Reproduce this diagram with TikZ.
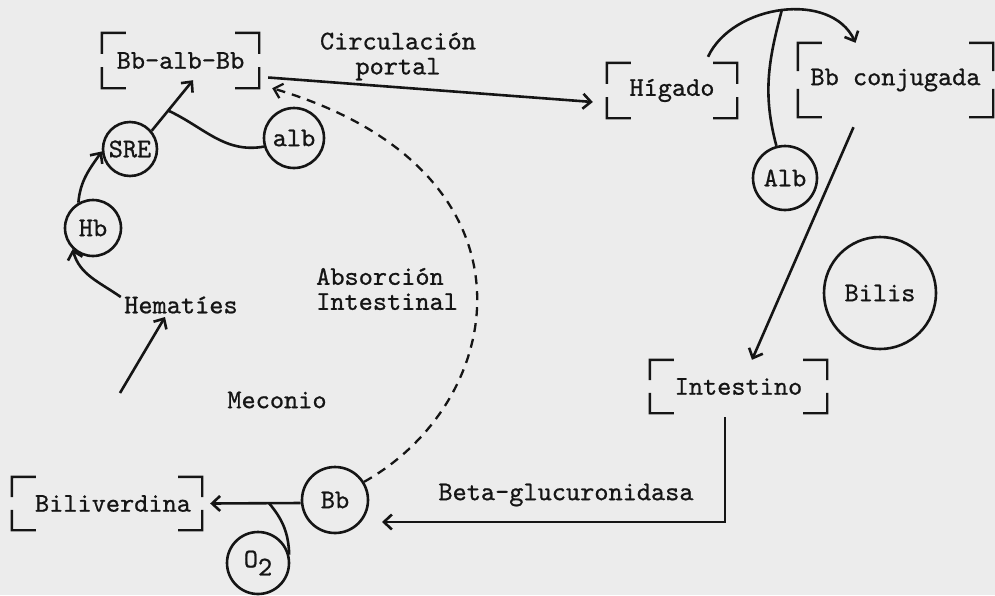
\documentclass[tikz,border=0pt]{standalone}
\usepackage{fontspec}
\newfontfamily\typew{lmmono10-regular.otf}[FakeBold=0.8]
\usetikzlibrary{arrows.meta,calc}
\definecolor{ink}{HTML}{151515}
\definecolor{paper}{HTML}{ECECEC}
\tikzset{
  every node/.style={font=\typew\fontsize{27}{25}\selectfont, text=ink},
  circ/.style={circle, draw=ink, line width=2.6pt, minimum size=#1, inner sep=0pt},
  boxn/.style={inner sep=0pt},
  brk/.style={draw=ink, line width=2.4pt, line cap=butt},
  ln/.style={draw=ink, line width=2.6pt},
  arr/.style={draw=ink, line width=2.6pt, -{Straight Barb[length=8pt,width=15pt]}},
  darr/.style={draw=ink, line width=2.3pt, dash pattern=on 9pt off 7pt, -{Straight Barb[length=8pt,width=15pt]}},
}
\newcommand\brackets[1]{%
  \draw[brk] ([xshift=24pt]#1.north west) -- (#1.north west) -- ($(#1.north west)!0.38!(#1.south west)$);
  \draw[brk] ($(#1.north west)!0.62!(#1.south west)$) -- (#1.south west) -- ([xshift=24pt]#1.south west);
  \draw[brk] ([xshift=-24pt]#1.north east) -- (#1.north east) -- ($(#1.north east)!0.38!(#1.south east)$);
  \draw[brk] ($(#1.north east)!0.62!(#1.south east)$) -- (#1.south east) -- ([xshift=-24pt]#1.south east);
}
\begin{document}
\begin{tikzpicture}[x=1pt,y=1pt]
\useasboundingbox (0,0) rectangle (995,-595);
\fill[paper] (0,0) rectangle (995,-595);

% boxes
\node[boxn, minimum width=157pt, minimum height=55pt] (bab) at (180.5,-60.5) {Bb-alb-Bb};
\node[boxn, minimum width=130pt, minimum height=55pt] (hig) at (672,-90.5) {Hígado};
\node[boxn, minimum width=195pt, minimum height=74pt] (bbc) at (895.5,-80) {Bb conjugada};
\node[boxn, minimum width=177pt, minimum height=53pt] (int) at (738.5,-386.5) {Intestino};
\node[boxn, minimum width=190pt, minimum height=53pt] (bil) at (107,-503.5) {Biliverdina\hspace*{-12pt}};
\brackets{bab}
\brackets{hig}
\brackets{bbc}
\brackets{int}
\brackets{bil}

% circles
\node[circ=54pt] (sre) at (130,-149) {SRE};
\node[circ=60pt] (albL) at (294,-138) {alb};
\node[circ=56pt] (hb) at (93,-228) {Hb};
\node[circ=64pt] (albR) at (785,-178) {Alb};
\node[circ=112pt] (bilis) at (880,-293) {Bilis};
\node[circ=66pt] (bb) at (335,-500) {Bb};
\node[circ=62pt] (o2) at (258,-563) {O\raisebox{-0.3em}{2}};

% free texts
\node[align=center] (circl) at (398,-56.5) {Circulación\\portal};
\node[align=left, anchor=west, inner sep=0pt, font=\typew\fontsize{27}{25}\selectfont] (abs) at (316,-289) {Absorción\\Intestinal};
\node (hem) at (181,-305) {Hematíes};
\node (mec) at (277,-400) {Meconio};
\node (beta) at (566,-495) {Beta-glucuronidasa};

% connectors
\draw[arr] (hb.120) to[out=85,in=235] (sre.185);
\draw[arr] ([yshift=8pt]hem.west) to[out=145,in=-75] (hb.226);
\coordinate (hstart) at (120,-393);
\draw[arr] (hstart) -- ([xshift=-16pt]hem.south);
\draw[arr] (sre.40) -- coordinate[pos=0.4] (j1) ([shift={(12.5,8)}]bab.south);
\draw[ln] (albL.196) to[out=190,in=-25] (j1);
\draw[arr] ([shift={(9,-17)}]bab.east) -- ([shift={(-14,-11.5)}]hig.west);
\draw[arr] ([shift={(36,6)}]hig.north) to[out=65,in=115] node[coordinate,pos=0.5] (j2) {} ([xshift=-40pt]bbc.north);
\draw[ln] (albR.105) to[out=105,in=-105] (j2);
\draw[arr] ([shift={(-42,-10)}]bbc.south) -- ([xshift=13.5pt]int.north);
\draw[arr] ([shift={(-13.5,-4)}]int.south) |- ([shift={(47,-22)}]bb.center);
\draw[arr] ([yshift=-3pt]bb.west) -- coordinate[pos=0.35] (j3) ([xshift=8pt]bil.east);
\draw[ln] (o2.15) to[out=92,in=-50] (j3);
\draw[darr] (bb.32) .. controls (510,-400) and (548,-170) .. ([xshift=13pt]bab.south east);
\end{tikzpicture}
\end{document}
